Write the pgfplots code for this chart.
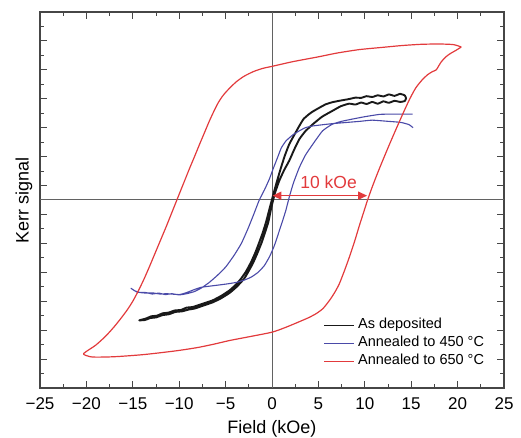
\documentclass[border=0pt]{standalone}
\usepackage{fontspec}
\setmainfont{Liberation Sans}
\usepackage{pgfplots}
\pgfplotsset{compat=1.18}
\usetikzlibrary{arrows.meta}
\definecolor{kred}{RGB}{226,58,60}
\definecolor{kblue}{RGB}{74,74,168}
\definecolor{kblack}{RGB}{25,25,25}
\definecolor{frame}{RGB}{70,70,70}
\begin{document}
\begin{tikzpicture}
\begin{axis}[
  scale only axis, width=464pt, height=376pt,
  xmin=-25, xmax=25, ymin=-6.5, ymax=6.5,
  xtick={-25,-20,...,25},
  xticklabels={−25,−20,−15,−10,−5,0,5,10,15,20,25},
  minor xtick={-22.5,-17.5,...,22.5},
  ytick={-5.5,-4.5,...,5.5},
  minor ytick={-6,-5,...,6},
  yticklabels={},
  xtick pos=both, ytick pos=both, xticklabel pos=lower,
  tick align=inside,
  major tick length=7pt, minor tick length=4pt,
  every tick/.style={frame, line width=1pt},
  axis line style={frame, line width=1.3pt},
  xticklabel style={font=\fontsize{17}{20}\selectfont, anchor=base, yshift=-21pt},
  xlabel={Field (kOe)}, ylabel={Kerr signal},
  xlabel style={font=\fontsize{18}{21}\selectfont, at={(axis description cs:0.5,-0.1197)}, anchor=base},
  ylabel style={font=\fontsize{18}{21}\selectfont, at={(axis description cs:-0.0345,0.5)}, anchor=center},
  legend image code/.code={\draw[#1, line width=1.4pt] (0pt,0pt) -- (30pt,0pt);},
  legend cell align=left,
  legend style={draw=none, fill=none, at={(axis cs:5.55,-4.02)}, anchor=north west,
    inner sep=0pt, row sep=0pt, column sep=1pt, font=\fontsize{14.5}{17}\selectfont,
    nodes={inner sep=2pt, text height=10.5pt, text depth=3.5pt}},
]
\addplot[frame!85, line width=1pt, forget plot] coordinates {(-25,0) (25,0)};
\addplot[frame!85, line width=1pt, forget plot] coordinates {(0,-6.5) (0,6.5)};

% As deposited
\addplot[kblack, line width=1.9pt, line join=round, smooth, tension=0.3] coordinates {
(14.3,3.62) (13.8,3.67) (13.2,3.60) (12.6,3.65) (12.0,3.58) (11.4,3.62) (10.8,3.56)
(10.2,3.59) (9.6,3.53) (9.0,3.54) (8.3,3.49) (7.25,3.43) (6.5,3.38) (5.8,3.31)
(5.1,3.19) (4.4,3.06) (4.0,2.97) (3.4,2.80) (2.94,2.56) (2.4,2.25) (1.86,1.93)
(1.4,1.55) (0.97,1.12) (0.6,0.72) (0.25,0.32) (-0.2,-0.22) (-0.65,-0.77)
(-1.0,-1.13) (-1.37,-1.46) (-1.8,-1.82) (-2.26,-2.15) (-2.8,-2.47) (-3.34,-2.72)
(-3.9,-2.93) (-4.6,-3.13) (-5.5,-3.32) (-6.4,-3.47) (-7.4,-3.58) (-8.55,-3.70)
(-9.2,-3.72) (-9.8,-3.80) (-10.5,-3.82) (-11.1,-3.89) (-11.8,-3.92) (-12.4,-4.00)
(-13.0,-4.02) (-13.6,-4.10) (-14.3,-4.16)
(-13.7,-4.15) (-13.1,-4.08) (-12.5,-4.06) (-11.8,-3.98) (-11.1,-3.95) (-10.4,-3.87)
(-9.7,-3.85) (-9.0,-3.79) (-8.3,-3.75) (-7.4,-3.65) (-6.4,-3.54) (-5.5,-3.40)
(-4.6,-3.22) (-3.8,-3.00) (-3.0,-2.72) (-2.5,-2.45) (-2.0,-2.15) (-1.55,-1.82)
(-1.1,-1.46) (-0.75,-1.12) (-0.4,-0.77) (-0.1,-0.30) (0.3,0.22) (0.79,0.67)
(1.3,1.03) (1.86,1.36) (2.4,1.75) (2.94,2.10) (3.6,2.38) (4.4,2.62) (5.4,2.88)
(6.5,3.08) (7.4,3.24) (8.3,3.33) (9.0,3.30) (9.6,3.37) (10.2,3.32) (10.8,3.39)
(11.4,3.33) (12.0,3.41) (12.6,3.36) (13.2,3.43) (13.8,3.39) (14.3,3.42) (14.45,3.52) (14.3,3.62)
};
\addlegendentry{As deposited}

% Annealed 450
\addplot[kblue, line width=1.1pt, line join=round, smooth, tension=0.3] coordinates {
(15.2,2.50) (14.8,2.60) (14.2,2.66) (13.7,2.69) (12.5,2.72) (10.8,2.76) (9.5,2.72)
(8.0,2.68) (6.5,2.64) (5.4,2.60) (4.4,2.56) (3.6,2.50) (2.94,2.39) (2.2,2.24)
(1.5,2.04) (1.0,1.80) (0.6,1.47) (0.15,1.10) (-0.29,0.72) (-0.8,0.36) (-1.37,0.0)
(-1.95,-0.48) (-2.6,-1.00) (-3.3,-1.50) (-4.1,-1.92) (-5.0,-2.32) (-5.9,-2.61)
(-6.8,-2.86) (-7.65,-3.05) (-8.4,-3.17) (-9.2,-3.24) (-10.0,-3.28) (-10.8,-3.24)
(-11.5,-3.27) (-12.2,-3.22) (-12.9,-3.25) (-13.6,-3.20) (-14.5,-3.19) (-15.2,-3.05)
(-14.8,-3.14) (-14.2,-3.20) (-13.5,-3.22) (-12.9,-3.21) (-12.1,-3.25) (-11.3,-3.24)
(-10.0,-3.27) (-9.2,-3.20) (-8.4,-3.10) (-7.65,-3.02) (-6.5,-2.97) (-5.5,-2.93)
(-4.6,-2.89) (-3.7,-2.84) (-3.0,-2.77) (-2.26,-2.67) (-1.5,-2.50) (-0.83,-2.27)
(-0.25,-1.95) (0.25,-1.58) (0.7,-1.15) (1.15,-0.71) (1.5,-0.35) (1.86,0.10)
(2.3,0.58) (2.94,1.12) (3.6,1.55) (4.4,1.93) (5.45,2.39) (6.5,2.62) (7.5,2.72)
(8.7,2.80) (10.0,2.88) (11.6,2.96) (13.0,2.97) (14.2,2.97) (15.15,2.97)
};
\addlegendentry{Annealed to 450 °C}

% Annealed 650
\addplot[kred, line width=1.2pt, line join=round, smooth, tension=0.4] coordinates {
(20.4,5.29) (19.6,5.37) (18.5,5.39) (17.0,5.39) (15.9,5.38) (14.0,5.34) (12.0,5.28)
(9.4,5.20) (7.0,5.08) (5.0,4.95) (2.2,4.78) (0.0,4.62) (-1.0,4.55) (-2.0,4.44)
(-3.0,4.28) (-3.8,4.10) (-4.4,3.92) (-5.0,3.72) (-5.4,3.56) (-5.8,3.36) (-6.2,3.11)
(-6.75,2.73) (-7.3,2.31) (-7.8,1.93) (-8.35,1.50) (-8.9,1.08) (-9.35,0.72)
(-9.8,0.36) (-10.25,0.0) (-10.8,-0.44) (-11.4,-0.92) (-12.0,-1.38) (-12.6,-1.84)
(-13.2,-2.30) (-13.8,-2.74) (-14.4,-3.14) (-15.0,-3.50) (-15.6,-3.80) (-16.3,-4.10)
(-17.0,-4.38) (-17.9,-4.70) (-19.0,-5.02) (-20.3,-5.31)
(-19.8,-5.40) (-19.3,-5.43) (-18.0,-5.43) (-16.5,-5.41) (-14.0,-5.35) (-12.0,-5.28)
(-10.0,-5.20) (-8.0,-5.10) (-6.2,-4.98) (-4.6,-4.86) (-2.5,-4.73) (0.0,-4.57)
(1.5,-4.40) (3.0,-4.20) (4.0,-4.06) (4.8,-3.92) (5.5,-3.75) (6.2,-3.47) (6.75,-3.20)
(7.25,-2.90) (7.8,-2.45) (8.33,-1.98) (8.9,-1.43) (9.4,-0.90) (9.85,-0.45) (10.3,0.0)
(10.8,0.45) (11.4,0.95) (12.0,1.42) (12.6,1.88) (13.3,2.40) (14.1,2.98) (14.85,3.50)
(15.5,3.88) (16.2,4.16) (16.8,4.34) (17.3,4.44) (17.7,4.50) (17.95,4.63) (18.25,4.78)
(18.7,4.94) (19.2,5.06) (19.8,5.17) (20.4,5.29)
};
\addlegendentry{Annealed to 650 °C}

\draw[kred, line width=1.5pt, {Triangle[length=9pt,width=8pt]}-{Triangle[length=9pt,width=8pt]}]
  (axis cs:0.05,0.15) -- (axis cs:10.25,0.15);
\node[kred, font=\fontsize{17.5}{20}\selectfont] at (axis cs:6.1,0.61) {10 kOe};
\end{axis}
\pgfresetboundingbox
\path[use as bounding box] (current axis.south west) ++(-40pt,-50pt) rectangle ([xshift=17pt,yshift=12pt]current axis.north east);
\end{tikzpicture}
\end{document}
